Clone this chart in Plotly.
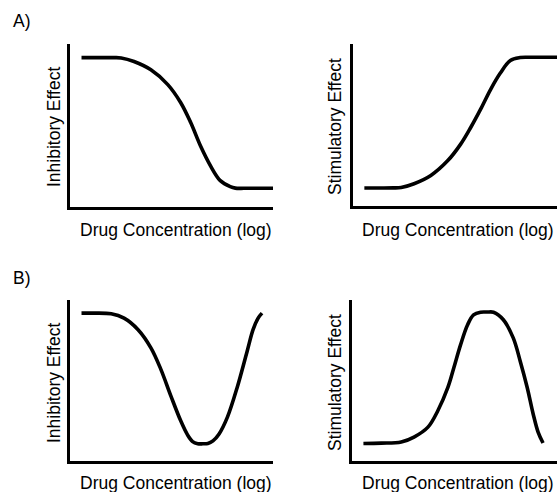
import plotly.graph_objects as go

W, H = 558, 492

# Panel A (left): inhibitory sigmoid
a_inh_x = [0.59, 1.5, 2.2, 2.54, 3.17, 4.0, 4.83, 5.46, 5.95, 6.44, 6.93, 7.41, 7.90, 8.15, 8.6, 10.0]
a_inh_y = [91.6, 91.6, 91.6, 91.4, 89.2, 84.1, 75.0, 64.0, 51.8, 37.2, 25.0, 15.9, 12.2, 11.3, 11.2, 11.2]

# Panel A (right): stimulatory sigmoid
a_sti_x = [0.58, 1.41, 2.0, 2.38, 3.01, 3.83, 4.66, 5.29, 5.78, 6.26, 6.75, 7.23, 7.72, 8.2, 8.6, 10.0]
a_sti_y = [10.8, 10.8, 10.9, 11.2, 13.5, 18.6, 27.8, 38.0, 48.3, 59.5, 71.8, 82.0, 89.8, 91.6, 91.8, 91.8]

# Panel B (left): inhibitory, U-shaped
b_inh_x = [0.59, 1.07, 2.05, 2.68, 3.37, 4.0, 4.49, 4.98, 5.46, 5.8, 6.05, 6.3, 6.55, 6.8, 7.05, 7.35, 7.76, 8.24, 8.73, 9.02, 9.27, 9.46]
b_inh_y = [91.8, 91.8, 91.4, 88.7, 81.5, 70.2, 56.8, 40.3, 24.9, 16.0, 11.8, 10.5, 10.4, 10.6, 12.2, 16.5, 27.0, 45.5, 68.1, 81.5, 88.7, 91.8]

# Panel B (right): stimulatory, bell-shaped
b_sti_x = [0.58, 1.45, 2.42, 3.04, 3.72, 4.2, 4.69, 4.98, 5.31, 5.65, 5.94, 6.28, 6.6, 6.91, 7.39, 7.87, 8.21, 8.55, 8.84, 9.08, 9.32]
b_sti_y = [10.6, 10.8, 11.5, 14.6, 20.8, 31.0, 45.5, 57.8, 72.2, 84.6, 90.7, 92.4, 92.5, 92.4, 87.7, 76.4, 61.9, 45.5, 29.0, 17.7, 10.9]

x_label = "Drug Concentration (log)"
y_labels = ["Inhibitory Effect", "Stimulatory Effect", "Inhibitory Effect", "Stimulatory Effect"]
panel_labels = ["A)", "B)"]

FONT = "Liberation Sans, Arial, Helvetica, sans-serif"
FS = 17.5

# pixel boxes of the four panels (left, right, top, bottom)
boxes = [(68, 273, 44, 208), (351, 557, 44, 207), (68, 273, 300, 462), (350, 557, 300, 462)]

fig = go.Figure()
series = [(a_inh_x, a_inh_y), (a_sti_x, a_sti_y), (b_inh_x, b_inh_y), (b_sti_x, b_sti_y)]
for i, (xs, ys) in enumerate(series):
    n = "" if i == 0 else str(i + 1)
    fig.add_trace(go.Scatter(x=xs, y=ys, mode="lines",
                             line=dict(color="black", width=3.6, shape="spline", smoothing=1.0),
                             xaxis="x" + n, yaxis="y" + n, showlegend=False, hoverinfo="skip"))
    l, r, t, b = boxes[i]
    ax = dict(showline=True, linewidth=3, linecolor="black", showgrid=False, zeroline=False,
              showticklabels=False, ticks="", fixedrange=True)
    fig.layout["xaxis" + n] = dict(ax, domain=[(l + 1.5) / W, r / W], range=[0, 10], anchor="y" + n)
    fig.layout["yaxis" + n] = dict(ax, domain=[1 - (b - 1.5) / H, 1 - t / H], range=[0, 100], anchor="x" + n)

annotations = []
# x titles
for (cx, cy) in [(176, 230), (458, 230), (176, 483), (458, 483)]:
    annotations.append(dict(text=x_label, x=cx / W, y=1 - cy / H, xref="paper", yref="paper",
                            xanchor="center", yanchor="middle", showarrow=False,
                            font=dict(family=FONT, size=FS, color="black")))
# y titles
for lab, (cx, cy) in zip(y_labels, [(54, 127), (335, 126), (54, 383), (335, 382)]):
    annotations.append(dict(text=lab, x=cx / W, y=1 - cy / H, xref="paper", yref="paper",
                            xanchor="center", yanchor="middle", showarrow=False, textangle=-90,
                            font=dict(family=FONT, size=FS, color="black")))
# panel labels
for lab, (lx, ly) in zip(panel_labels, [(11, 21), (11, 278)]):
    annotations.append(dict(text=lab, x=lx / W, y=1 - ly / H, xref="paper", yref="paper",
                            xanchor="left", yanchor="middle", showarrow=False,
                            font=dict(family=FONT, size=FS, color="black")))

fig.update_layout(width=W, height=H, margin=dict(l=0, r=0, t=0, b=0),
                  paper_bgcolor="white", plot_bgcolor="white", annotations=annotations)

fig.write_html("out.html", config={"displayModeBar": False},
               post_script="document.body.style.margin='0';document.body.style.overflow='hidden';")
